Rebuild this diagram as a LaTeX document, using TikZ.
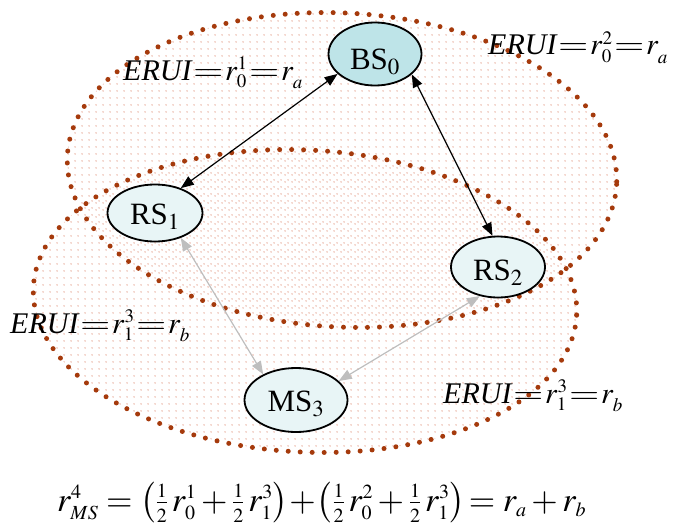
\documentclass[tikz,border=0pt]{standalone}
\usepackage{mathptmx}
\usepackage{graphicx}
\usepackage[no-math]{fontspec}
\setmainfont{Liberation Serif}
\usetikzlibrary{arrows.meta,shapes.geometric,patterns}
\DeclareMathSizes{30}{30}{19}{14}
\DeclareMathSizes{34}{34}{20}{15}
\definecolor{pdot}{RGB}{232,178,162}
\definecolor{bdot}{RGB}{165,58,12}
\definecolor{bsfill}{RGB}{190,228,232}
\definecolor{rsfill}{RGB}{232,245,246}
\definecolor{garrow}{RGB}{190,190,190}
\newcommand{\hlf}{{\textstyle\frac{1}{2}}}
\newcommand{\weq}{\mskip1mu\scalebox{1.3}[1]{$=$}\mskip1mu}
\newcommand{\lsub}[1]{_{\lower4pt\hbox{$\scriptstyle #1$}}}
\newcommand{\erui}{\mbox{\itshape ERUI}}
\pgfdeclarepatterninherentlycolored{pinkdots}{\pgfpointorigin}{\pgfqpoint{6.5pt}{6.5pt}}{\pgfqpoint{6.5pt}{6.5pt}}{\pgfsetfillcolor{pdot}\pgfpathcircle{\pgfqpoint{3.25pt}{3.25pt}}{0.85pt}\pgfusepath{fill}}
\tikzset{
  regionborder/.style={draw=bdot, line width=5pt, line cap=round, dash pattern=on 0pt off 12pt},
  station/.style={ellipse, draw=black, line width=1.8pt, inner sep=0pt, fill=rsfill},
  stext/.style={font=\fontsize{31}{36}\selectfont, inner sep=0pt},
  blackarrow/.style={draw=black, line width=1.2pt, {Triangle[length=13pt,width=10pt]}-{Triangle[length=13pt,width=10pt]}},
  grayarrow/.style={draw=garrow, line width=1.2pt, {Triangle[length=13pt,width=10pt]}-{Triangle[length=13pt,width=10pt]}},
  lbl/.style={anchor=base west, inner sep=0pt, font=\fontsize{30}{36}\selectfont},
  flbl/.style={anchor=base west, inner sep=0pt, font=\fontsize{34}{40}\selectfont}
}
\begin{document}
\begin{tikzpicture}[x=1pt,y=-1pt]
\useasboundingbox (0,0) rectangle (684,527);
% regions (dot fill, grid not rotated)
\begin{scope}
  \clip[rotate around={-3:(342,170)}] (342,170) ellipse [x radius=275, y radius=157];
  \fill[pattern=pinkdots] (0,0) rectangle (684,527);
\end{scope}
\begin{scope}
  \clip[rotate around={-3:(305,301)}] (305,301) ellipse [x radius=272, y radius=151];
  \fill[pattern=pinkdots] (0,0) rectangle (684,527);
\end{scope}
\path[regionborder, rotate around={-3:(342,170)}] (342,170) ellipse [x radius=275, y radius=157];
\path[regionborder, rotate around={-3:(305,301)}] (305,301) ellipse [x radius=272, y radius=151];
% stations
\node[station, fill=bsfill, minimum width=93pt, minimum height=63pt,
      label={[stext, yshift=-8pt]center:BS$_0$}] (bs0) at (375,54) {};
\node[station, minimum width=95pt, minimum height=57pt,
      label={[stext, yshift=-4pt]center:RS$_1$}] (rs1) at (155,213) {};
\node[station, minimum width=94pt, minimum height=61pt,
      label={[stext, yshift=-6pt]center:RS$_2$}] (rs2) at (498,267) {};
\node[station, minimum width=103pt, minimum height=64pt,
      label={[stext, yshift=-4pt]center:MS$_3$}] (ms3) at (296,400) {};
% links
\draw[blackarrow] (rs1.44) -- (bs0.208);
\draw[blackarrow] (bs0.-29) -- (rs2.100);
\draw[grayarrow] (rs1.-44) -- (ms3.142);
\draw[grayarrow] (rs2.238) -- (ms3.24);
% labels
\node[lbl] (l1) at (123,80) {$\erui\weq r_0^1\weq r\lsub{a}$};
\node[lbl] (l2) at (488,55) {$\erui\weq r_0^2\weq r\lsub{a}$};
\node[lbl] (l3) at (10,333) {$\erui\weq r_1^3\weq r\lsub{b}$};
\node[lbl] (l4) at (443,403) {$\erui\weq r_1^3\weq r\lsub{b}$};
\node[flbl] (f) at (57,511) {$r_{MS}^4 = \left(\hlf\,r_0^1 + \hlf\,r_1^3\right)\!+\!\left(\hlf\,r_0^2 + \hlf\,r_1^3\right)\!= r_a + r_b$};
\end{tikzpicture}
\end{document}
